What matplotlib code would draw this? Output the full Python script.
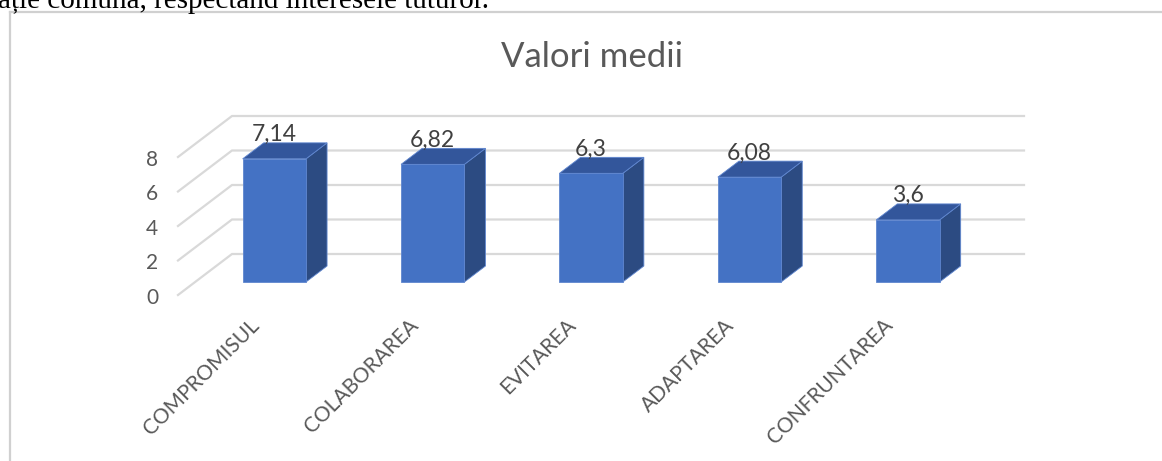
import numpy as np
import matplotlib.pyplot as plt
from matplotlib.lines import Line2D

# Date
categorii = ["COMPROMISUL", "COLABORAREA", "EVITAREA", "ADAPTAREA", "CONFRUNTAREA"]
valori = [7.14, 6.82, 6.3, 6.08, 3.6]
etichete = ["7,14", "6,82", "6,3", "6,08", "3,6"]
ticks_y = [0, 2, 4, 6, 8]
titlu = "Valori medii"
text_sus = "ație comună, respectând interesele tuturor."

# Parametri pseudo-3D (unitati de date)
DX, DY = 0.341, 2.377      # vectorul de adancime
D0, D1 = 0.317, 0.707      # adancimea fetei fata / spate a barei
HW = 0.2                   # jumatate din latimea barei

C_FATA = "#4472C4"
C_LATERAL = "#2C4B82"
C_SUS = "#33569B"
C_GRILA = "#d9d9d9"
C_TEXT = "#595959"


def proj(x, y, d):
    return x + d * DX, y + d * DY


fig = plt.figure(figsize=(11.62, 4.61), dpi=100)
ax = fig.add_axes([0, 0, 1, 1])
ax.set_xlim(-1.6237, -1.6237 + 1162 / 158.4)
ax.set_ylim(-(461 - 295) / 17.25, 295 / 17.25)
ax.axis("off")

n = len(categorii)

# grila: perete lateral + perete spate
for t in ticks_y:
    x0, y0 = proj(-0.5, t, 0)
    x1, y1 = proj(-0.5, t, 1)
    x2, y2 = proj(n - 0.5, t, 1)
    ax.plot([x0, x1, x2], [y0, y1, y2], color=C_GRILA, lw=1.6,
            solid_joinstyle="miter", zorder=1)
    ax.text(-0.626, t - 0.15, str(t), ha="right", va="center",
            fontsize=15, color=C_TEXT, family="Lato")

# bare
for i, v in enumerate(valori):
    fata = [proj(i - HW, 0, D0), proj(i + HW, 0, D0),
            proj(i + HW, v, D0), proj(i - HW, v, D0)]
    lateral = [proj(i + HW, 0, D0), proj(i + HW, 0, D1),
               proj(i + HW, v, D1), proj(i + HW, v, D0)]
    sus = [proj(i - HW, v, D0), proj(i + HW, v, D0),
           proj(i + HW, v, D1), proj(i - HW, v, D1)]
    for poly, c in [(lateral, C_LATERAL), (sus, C_SUS), (fata, C_FATA)]:
        xs, ys = zip(*poly)
        ax.fill(xs, ys, color=c, ec="#5f86cf", lw=0.6, zorder=3)

    xl, yl = proj(i, v, D0)
    ax.text(xl, v + D1 * DY + 0.1, etichete[i], ha="center", va="baseline",
            fontsize=16.5, color="#404040", family="Lato", zorder=4)

    ax.text(i - 0.05, -1.15, categorii[i], ha="right", va="top",
            rotation=45, rotation_mode="anchor",
            fontsize=15, color=C_TEXT, family="Lato")

ax.text(2.114, 13.22, titlu, ha="center", va="baseline",
        fontsize=25, color=C_TEXT, family="Lato")

# chenarul graficului
fig.add_artist(Line2D([9.5 / 1162, 9.5 / 1162], [0, 1 - 12 / 461],
                      color="#d0d0d0", lw=1.6))
fig.add_artist(Line2D([9.5 / 1162, 1], [1 - 12 / 461, 1 - 12 / 461],
                      color="#d0d0d0", lw=1.6))

# textul documentului taiat deasupra graficului
fig.text(-2 / 1162, 1 - 8 / 461, text_sus, ha="left", va="baseline",
         fontsize=21, color="black", family="Liberation Serif")

fig.savefig("out.png", dpi=100)
